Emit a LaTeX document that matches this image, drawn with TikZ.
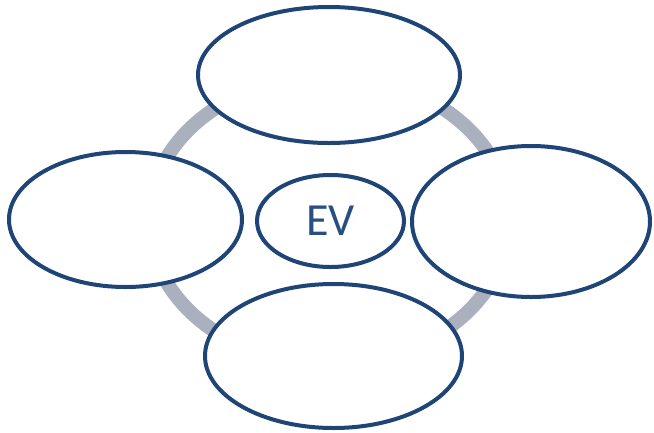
\documentclass[tikz,border=0pt]{standalone}
\usepackage{fontspec}
\setmainfont{Carlito}
\usepackage{tikz}
\usetikzlibrary{shapes.geometric}

\definecolor{navy}{RGB}{31,68,118}
\definecolor{evtext}{RGB}{40,78,130}
\definecolor{ringgray}{RGB}{170,176,190}

\tikzset{
    bubble/.style={ellipse, draw=navy, line width=4pt, fill=white, inner sep=0pt},
    hub/.style={bubble, text=evtext, font=\fontsize{46}{46}\selectfont}
}

\begin{document}
\begin{tikzpicture}[x=1pt, y=-1pt]
        \useasboundingbox (0,0) rectangle (654,432);

        % --- RING behind the bubbles ---
        \draw[ringgray, line width=14pt] (329,220) ellipse [x radius=180, y radius=144];

        % --- OUTER BUBBLES ---
        \node[bubble, minimum width=262pt, minimum height=136pt] (top) at (329,75) {};
        \node[bubble, minimum width=233pt, minimum height=135pt] (left) at (125.5,219.5) {};
        \node[bubble, minimum width=238pt, minimum height=151pt] (right) at (531,221.5) {};
        \node[bubble, minimum width=257pt, minimum height=144pt] (bottom) at (333.5,356) {};

        % --- CENTRE ---
        \node[hub, minimum width=147pt, minimum height=92pt] (ev) at (330.5,221) {EV};

\end{tikzpicture}
\end{document}
